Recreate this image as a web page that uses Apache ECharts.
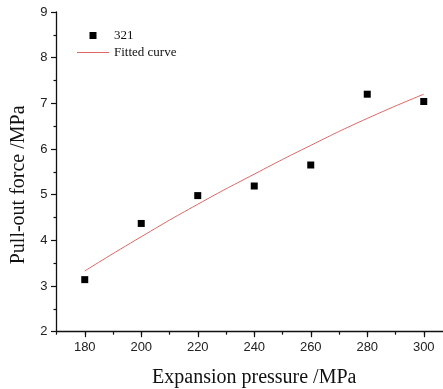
<!DOCTYPE html>
<html>
<head>
<meta charset="utf-8">
<title>Pull-out force</title>
<style>
  html, body { margin: 0; padding: 0; background: #fff; }
  #main { width: 443px; height: 389px; }
</style>
</head>
<body>
<div id="main"></div>
<script src="https://cdn.jsdelivr.net/npm/echarts@6/dist/echarts.min.js"></script>
<script>
// measured points (series "321")
var pressure = [180, 200, 220, 240, 260, 280, 300];
var force = [3.14, 4.37, 4.98, 5.19, 5.65, 7.20, 7.04];
// fitted curve
var fitX = [180, 200, 220, 240, 260, 280, 300];
var fitY = [3.33, 4.08, 4.79, 5.45, 6.08, 6.67, 7.20];
// major ticks / labels of the x axis
var xTicks = [180, 200, 220, 240, 260, 280, 300];

var chart = echarts.init(document.getElementById('main'));

function pairs(xs, ys) {
  return xs.map(function (x, i) { return [x, ys[i]]; });
}

var serif = 'Liberation Serif';
var sans = 'Liberation Sans';
var red = '#e06666';

chart.setOption({
  backgroundColor: '#fff',
  animation: false,
  grid: { left: 56.5, top: 12, bottom: 57.3, right: -9, containLabel: false, outerBoundsMode: 'none' },
  legend: {
    orient: 'vertical',
    left: 77,
    top: 29,
    padding: 0,
    itemWidth: 32,
    itemHeight: 7,
    itemGap: 4,
    symbolKeepAspect: true,
    textStyle: { fontFamily: serif, fontSize: 13, color: '#111' },
    data: [
      { name: '321', icon: 'path://M0,0h10v10h-10z' },
      { name: 'Fitted curve', icon: 'path://M0,0h32v1h-32z' }
    ]
  },
  xAxis: [{
    type: 'value',
    min: 170,
    max: 310,
    name: 'Expansion pressure /MPa',
    nameLocation: 'middle',
    nameGap: 36,
    nameTextStyle: { fontFamily: serif, fontSize: 20, color: '#111' },
    axisLine: { lineStyle: { color: '#111', width: 1.3 } },
    axisTick: { customValues: xTicks, length: 5.5, lineStyle: { color: '#111', width: 1.2 } },
    axisLabel: { customValues: xTicks, margin: 9, fontFamily: sans, fontSize: 13, color: '#222' },
    splitLine: { show: false }
  }, {
    type: 'value',
    min: 170,
    max: 310,
    interval: 10,
    position: 'bottom',
    axisLine: { show: false },
    axisTick: { length: 3, lineStyle: { color: '#111', width: 1.2 } },
    axisLabel: { show: false },
    splitLine: { show: false }
  }],
  yAxis: {
    type: 'value',
    min: 2,
    max: 9,
    interval: 1,
    name: 'Pull-out force /MPa',
    nameLocation: 'middle',
    nameGap: 28,
    nameTextStyle: { fontFamily: serif, fontSize: 20, color: '#111', padding: [0, 26, 0, 0] },
    axisLine: { show: true, lineStyle: { color: '#111', width: 1.3 } },
    axisTick: { show: true, length: 5.5, lineStyle: { color: '#111', width: 1.2 } },
    minorTick: { show: true, splitNumber: 2, length: 3, lineStyle: { color: '#111', width: 1.2 } },
    axisLabel: { margin: 9, fontFamily: sans, fontSize: 13, color: '#222' },
    splitLine: { show: false }
  },
  series: [{
    name: '321',
    type: 'scatter',
    symbol: 'rect',
    symbolSize: 7,
    itemStyle: { color: '#000', opacity: 1 },
    data: pairs(pressure, force),
    z: 3
  }, {
    name: 'Fitted curve',
    type: 'line',
    smooth: true,
    showSymbol: false,
    symbol: 'none',
    lineStyle: { color: red, width: 1 },
    itemStyle: { color: red },
    data: pairs(fitX, fitY),
    z: 2
  }]
});
</script>
</body>
</html>
